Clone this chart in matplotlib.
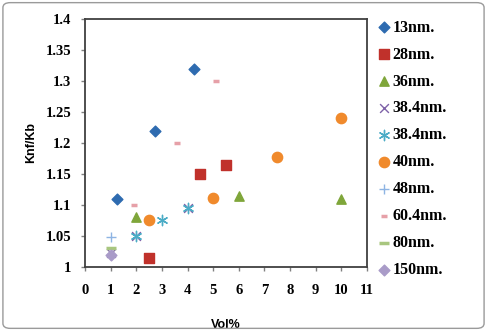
import matplotlib.pyplot as plt
from matplotlib.patches import FancyBboxPatch

# series: (label, x values, y values)
x_13 = [1.25, 2.75, 4.25]
y_13 = [1.11, 1.22, 1.32]
x_28 = [2.5, 4.5, 5.5]
y_28 = [1.015, 1.15, 1.165]
x_36 = [2, 6, 10]
y_36 = [1.08, 1.115, 1.11]
x_384a = [1, 2, 4]
y_384a = [1.022, 1.05, 1.095]
x_384b = [2, 3, 4]
y_384b = [1.05, 1.075, 1.095]
x_40 = [2.5, 5, 7.5, 10]
y_40 = [1.075, 1.112, 1.178, 1.24]
x_48 = [1]
y_48 = [1.048]
x_604 = [1.9, 3.6, 5.1]
y_604 = [1.1, 1.2, 1.3]
x_80 = [1]
y_80 = [1.03]
x_150 = [1]
y_150 = [1.02]

xticks = list(range(0, 12))
yticks = [1, 1.05, 1.1, 1.15, 1.2, 1.25, 1.3, 1.35, 1.4]
ytick_labels = ["1", "1.05", "1.1", "1.15", "1.2", "1.25", "1.3", "1.35", "1.4"]

fig = plt.figure(figsize=(4.87, 3.31), dpi=100)
ax = fig.add_axes([0.1745, 0.1934, 0.5791, 0.7492])

serif = "Liberation Serif"
sans = "Liberation Sans"

ax.scatter(x_13, y_13, marker="D", s=30, color="#2E6BB0", label="13nm.", zorder=3)
ax.scatter(x_28, y_28, marker="s", s=45, color="#C0312B", label="28nm.", zorder=3)
ax.scatter(x_36, y_36, marker="^", s=45, color="#7FA63A", label="36nm.", zorder=3)
ax.scatter(x_384a, y_384a, marker="x", s=40, color="#7E62A8", linewidths=1.0,
           label="38.4nm.", zorder=3)
ax.scatter(x_384b, y_384b, marker=(6, 2, 0), s=55, color="#4BACC6", linewidths=1.0,
           label="38.4nm.", zorder=3)
ax.scatter(x_40, y_40, marker="o", s=55, color="#F08A2C", label="40nm.", zorder=3)
ax.scatter(x_48, y_48, marker="+", s=50, color="#8EB4E3", linewidths=1.0,
           label="48nm.", zorder=3)
ax.scatter(x_604, y_604, marker="_", s=20, color="#E6A0A8", linewidths=2.5,
           label="60.4nm.", zorder=3)
ax.scatter(x_80, y_80, marker="_", s=45, color="#A8C67F", linewidths=2.5,
           label="80nm.", zorder=3)
ax.scatter(x_150, y_150, marker="D", s=30, color="#A99BC8", label="150nm.", zorder=3)

ax.set_xlim(0, 11)
ax.set_ylim(1, 1.4)
ax.set_xticks(xticks)
ax.set_yticks(yticks)
ax.set_yticklabels(ytick_labels)
for lab in ax.get_xticklabels() + ax.get_yticklabels():
    lab.set_fontfamily(serif)
    lab.set_fontweight("bold")
    lab.set_fontsize(10.5)
ax.tick_params(axis="both", direction="out", length=3, width=1, color="#808080")
ax.tick_params(axis="x", pad=9)
ax.tick_params(axis="y", pad=7)

for sp in ax.spines.values():
    sp.set_linewidth(1.3)
    sp.set_color("#404040")

ax.set_ylabel("Knf/Kb", fontfamily=sans, fontweight="bold", fontsize=9, labelpad=6)
ax.set_xlabel("Vol%", fontfamily=sans, fontweight="bold", fontsize=9, labelpad=16)

fig.legend(loc="upper left", bbox_to_anchor=(0.760, 0.96), frameon=False,
           prop={"family": serif, "weight": "bold", "size": 11.5},
           handletextpad=0.0, labelspacing=0.685, handlelength=1.0,
           borderaxespad=0, scatterpoints=1)

fig.patches.append(FancyBboxPatch((0.006, 0.008), 0.988, 0.984,
                                  boxstyle="round,pad=0,rounding_size=0.015",
                                  transform=fig.transFigure, fill=False,
                                  edgecolor="#9a9a9a", linewidth=1.0))

fig.savefig("out.png", dpi=100)
